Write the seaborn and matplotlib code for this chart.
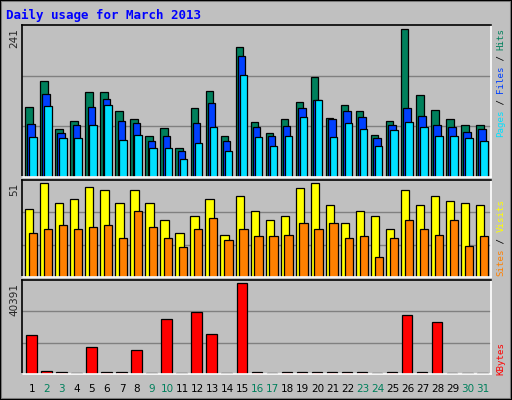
import matplotlib
matplotlib.use("Agg")
import matplotlib.pyplot as plt
from matplotlib.patches import Rectangle
import seaborn as sns
import pandas as pd
import numpy as np

days = list(range(1, 32))
weekend_days = [2, 3, 9, 10, 16, 17, 23, 24, 30, 31]

hits = [115, 156, 79, 92, 139, 139, 107, 95, 67, 80, 48, 113, 141, 67, 213, 90,
        72, 94, 123, 164, 97, 118, 107, 69, 92, 241, 134, 110, 94, 85, 85]
files = [87, 136, 72, 85, 115, 128, 92, 89, 58, 67, 43, 89, 121, 58, 198, 82,
         67, 84, 113, 126, 94, 108, 98, 63, 85, 113, 100, 85, 81, 74, 79]
pages = [66, 116, 63, 64, 85, 118, 61, 69, 48, 48, 30, 56, 81, 43, 167, 66,
         51, 67, 98, 125, 66, 89, 79, 50, 77, 90, 82, 67, 67, 64, 59]
visits = [37, 51, 40, 42, 49, 47, 40, 47, 40, 31, 24, 33, 42, 23, 44, 36,
          31, 33, 48, 51, 39, 29, 36, 33, 26, 47, 39, 44, 41, 40, 39]
sites = [24, 26, 28, 26, 27, 28, 21, 36, 27, 21, 16, 26, 32, 20, 26, 22,
         22, 23, 29, 26, 29, 21, 22, 11, 21, 31, 26, 23, 31, 17, 22]
kbytes = [17300, 1300, 900, 500, 12000, 900, 900, 10650, 500, 24400, 500, 27500,
          17750, 500, 40391, 900, 500, 900, 900, 900, 900, 900, 900, 500, 900,
          26200, 900, 23100, 500, 500, 500]

BG = "#C0C0C0"
sns.set_style("white")
plt.rcParams["font.family"] = ["DejaVu Sans"]

fig = plt.figure(figsize=(5.12, 4.0), dpi=100, facecolor=BG)
W, H = 512, 400


def px_axes(x0, y0, x1, y1):
    return fig.add_axes([x0 / W, 1 - y1 / H, (x1 - x0) / W, (y1 - y0) / H])


def bars(ax, offset, width, vals, color):
    df = pd.DataFrame({"x": np.array(days) + offset, "y": vals})
    sns.barplot(data=df, x="x", y="y", native_scale=True, width=width,
                color=color, saturation=1, edgecolor="black", linewidth=0.9, ax=ax)


def style(ax, ymax):
    ax.set_facecolor(BG)
    top = ymax * 1.03
    ax.set_ylim(0, top)
    ax.set_xlim(0.8, 32.0)
    for g in (top / 3, 2 * top / 3):
        ax.axhline(g, color="#808080", lw=1, zorder=0)
    ax.set_xticks([])
    ax.set_yticks([])
    ax.set_xlabel("")
    ax.set_ylabel("")
    for s in ("left", "top"):
        ax.spines[s].set_color("black")
    for s in ("right", "bottom"):
        ax.spines[s].set_color("white")
    for s in ax.spines.values():
        s.set_linewidth(1.2)


ax1 = px_axes(22, 25, 491, 177)
bars(ax1, 0.26, 0.5, hits, "#00805C")
bars(ax1, 0.41, 0.5, files, "#0040FF")
bars(ax1, 0.53, 0.5, pages, "#00E0FF")
style(ax1, max(hits))

ax2 = px_axes(22, 180, 491, 277)
bars(ax2, 0.28, 0.55, visits, "#FFFF00")
bars(ax2, 0.53, 0.55, sites, "#FF8000")
style(ax2, max(visits))

ax3 = px_axes(22, 280, 491, 374)
bars(ax3, 0.42, 0.7, kbytes, "#FF0000")
style(ax3, max(kbytes))

# day labels
for d in days:
    c = "#00805C" if d in weekend_days else "black"
    x = 22 + (d + 0.45 - 0.8) / 31.2 * 469
    fig.text(x / W, 1 - 389 / H, str(d), color=c, fontsize=7.5,
             ha="center", va="center")

# max labels on the left
for label, ytop in (("241", 28), ("51", 183), ("40391", 283)):
    fig.text(14 / W, 1 - ytop / H, label, rotation=90, fontsize=7.5,
             ha="center", va="top")

fig.text(6 / W, 1 - 15 / H, "Daily usage for March 2013", color="#0000FF",
         family="DejaVu Sans Mono", fontweight="bold", fontsize=9,
         ha="left", va="center")


def legend_stack(y_bottom, pieces, step=5.45):
    y = y_bottom
    for txt, col in pieces:
        fig.text(501 / W, 1 - y / H, txt, color=col, rotation=90,
                 family="DejaVu Sans Mono", fontsize=6.6,
                 ha="center", va="bottom")
        y -= len(txt) * step


legend_stack(137, [("Pages", "#00E0FF"), (" / ", "black"), ("Files", "#0040FF"),
                   (" / ", "black"), ("Hits", "#00805C")])
legend_stack(276, [("Sites", "#FF8000"), (" / ", "black"), ("Visits", "#FFFF00")])
legend_stack(375, [("KBytes", "#FF0000")])

# bevelled outer border
fig.patches.append(Rectangle((1 / W, 1 / H), 1 - 2 / W, 1 - 2 / H,
                             transform=fig.transFigure, fill=False,
                             edgecolor="#808080", lw=1.5))
fig.patches.append(Rectangle((0, 0), 1, 1, transform=fig.transFigure,
                             fill=False, edgecolor="black", lw=1.5))

fig.savefig("out.png", dpi=100, facecolor=BG)
